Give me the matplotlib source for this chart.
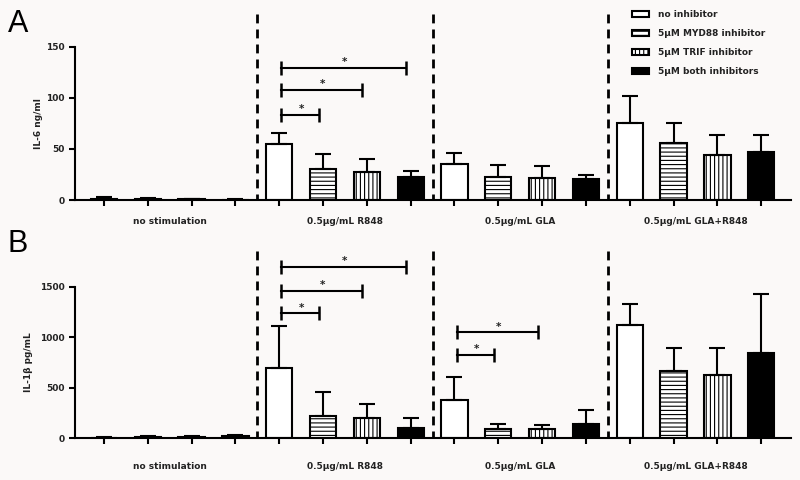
import numpy as np
import matplotlib
matplotlib.use("Agg")
import matplotlib.pyplot as plt
from matplotlib.patches import Patch

# DATA
groups = ["no stimulation", "0.5\u00b5g/mL R848", "0.5\u00b5g/mL GLA", "0.5\u00b5g/mL GLA+R848"]
treatments = ["no inhibitor", "5\u00b5M MYD88 inhibitor", "5\u00b5M TRIF inhibitor", "5\u00b5M both inhibitors"]

il6_mean = [1.0, 0.6, 0.5, 0.3,
            54.4, 30.3, 27.4, 22.8,
            35.2, 22.8, 21.2, 20.5,
            75.7, 55.4, 44.4, 46.6]
il6_err = [2.0, 1.0, 0.8, 0.5,
           11.5, 14.7, 12.4, 6.0,
           11.0, 11.0, 12.0, 4.3,
           26.0, 20.0, 19.0, 16.7]

il1b_mean = [5, 10, 8, 25,
             699, 221, 198, 105,
             379, 92, 92, 145,
             1118, 669, 630, 841]
il1b_err = [10, 10, 10, 10,
            415, 234, 138, 96,
            228, 53, 37, 132,
            214, 228, 267, 583]

# significance brackets: (start bar, end bar, height)
il6_sig = [(4, 5, 83), (4, 6, 108), (4, 7, 129)]
il1b_sig = [(4, 5, 1236), (4, 6, 1457), (4, 7, 1697), (8, 9, 824), (8, 10, 1048)]

# STYLE
BG = "#fbf9f8"
TXT = "#222222"
FS = 6.5
plt.rcParams["font.family"] = ["DejaVu Sans"]
plt.rcParams["hatch.linewidth"] = 0.8

fills = ["white", "white", "white", "black"]
hatches = [None, "----", "||||", None]

fig = plt.figure(figsize=(8, 4.8), dpi=100, facecolor=BG)
axA = fig.add_axes([75 / 800, 1 - 200 / 480, 716 / 800, 186 / 480])
axB = fig.add_axes([75 / 800, 1 - 438.3 / 480, 716 / 800, 187 / 480])

x = np.arange(16)


def draw_panel(ax, means, errs, sigs, ytop, ymax, yticks, ylabel, lab_x, cat_off):
    ax.set_facecolor(BG)
    for i in range(16):
        t = i % 4
        ax.bar(x[i], means[i], width=0.6, color=fills[t], edgecolor="black",
               linewidth=1.5, hatch=hatches[t], zorder=2)
    ax.errorbar(x, means, yerr=[np.zeros(16), errs], fmt="none", ecolor="black",
                elinewidth=1.5, capsize=6, capthick=1.5, zorder=3)
    # dashed separators between stimulation groups
    for xd in [3.5, 7.5, 11.5]:
        ax.plot([xd, xd], [ymax, 0], color="black", lw=2, ls=(0, (3.2, 2.2)),
                clip_on=False, zorder=4)
    for a, b, h in sigs:
        ax.plot([a + 0.05, b - 0.1], [h, h], color="black", lw=1.5,
                marker="|", markersize=9.5, markeredgewidth=1.8, zorder=4)
        ax.annotate("*", ((a + b) / 2, h), xytext=(0, 0.5), textcoords="offset points",
                    ha="center", va="bottom", fontsize=7.5, fontweight="bold", color=TXT)

    ax.set_xlim(-0.66, 15.68)
    ax.set_ylim(0, ymax)
    ax.spines["top"].set_visible(False)
    ax.spines["right"].set_visible(False)
    ax.spines["left"].set_bounds(0, ytop)
    ax.spines["left"].set_linewidth(1.5)
    ax.spines["bottom"].set_linewidth(1.5)
    ax.set_yticks(yticks)
    ax.set_xticks(x)
    ax.set_xticklabels([])
    ax.tick_params(axis="both", direction="out", length=4.5, width=1.5, colors="black")
    ax.tick_params(axis="y", pad=3, labelsize=FS, labelcolor=TXT)
    for lbl in ax.get_yticklabels():
        lbl.set_fontweight("bold")
    ax.set_ylabel(ylabel, fontsize=FS, fontweight="bold", color=TXT)
    ax.yaxis.set_label_coords(lab_x, (ytop / 2) / ymax)
    for g, name in enumerate(groups):
        ax.annotate(name, (g * 4 + 1.5, 0), xytext=(0, -cat_off), textcoords="offset points",
                    ha="center", va="center", fontsize=FS, fontweight="bold", color=TXT,
                    annotation_clip=False)


draw_panel(axA, il6_mean, il6_err, il6_sig, 150, 182, [0, 50, 100, 150],
           "IL-6 ng/ml", -0.045, 15.5)
draw_panel(axB, il1b_mean, il1b_err, il1b_sig, 1500, 1850, [0, 500, 1000, 1500],
           "IL-1\u03b2 pg/mL", -0.059, 20)

fig.text(8 / 800, 1 - 32 / 480, "A", fontsize=22, color="black", va="baseline",
         family="Liberation Sans")
fig.text(8 / 800, 1 - 252 / 480, "B", fontsize=22, color="black", va="baseline",
         family="Liberation Sans")

handles = [Patch(facecolor=fills[t], edgecolor="black", linewidth=1.5, hatch=hatches[t])
           for t in range(4)]
leg = fig.legend(handles, treatments, loc="upper left", bbox_to_anchor=(632 / 800, 1 - 10 / 480),
                 frameon=False, fontsize=FS, handlelength=1.9, handleheight=0.65,
                 handletextpad=0.95, labelspacing=1.1, borderpad=0, borderaxespad=0)
for t in leg.get_texts():
    t.set_fontweight("bold")
    t.set_color(TXT)

fig.savefig("out.png", dpi=100, facecolor=BG)
